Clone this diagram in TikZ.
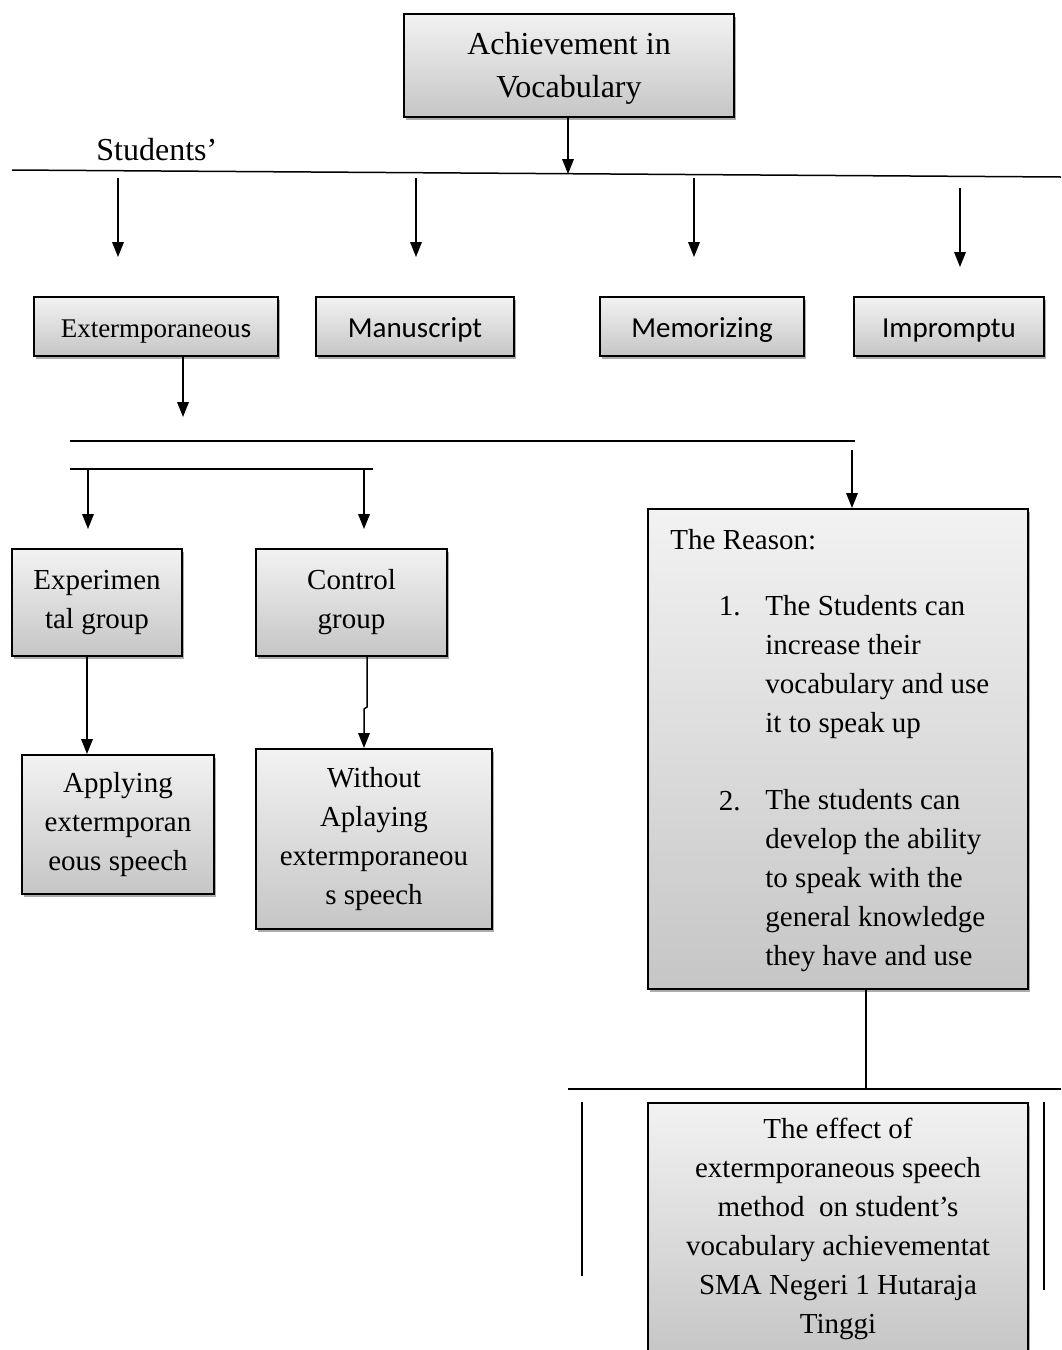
\documentclass[tikz,border=0pt]{standalone}
\usepackage{fontspec}
\setmainfont{Liberation Serif}
\newfontfamily\calibri{Carlito}
\usetikzlibrary{arrows.meta,positioning,shadows}
\tikzset{
  greybox/.style={draw,line width=1pt,inner sep=0pt,align=center,
    top color=gray!10,bottom color=gray!45,
    drop shadow={shadow xshift=0.9pt,shadow yshift=-1.4pt,fill=gray!65,opacity=1}},
  txt/.style={font=\fontsize{14.5}{19.5}\selectfont},
  sanstxt/.style={font=\calibri\fontsize{14.5}{18}\selectfont},
  lowtext/.style={text height=13.5pt,text depth=3pt},
  bare/.style={inner sep=0pt},
  downarr/.style={line width=.75pt,-{Triangle[length=7.5pt,width=5.8pt]}},
  bar/.style={line width=.75pt},
}
\begin{document}
\begin{tikzpicture}[x=.5pt,y=-.5pt]
  \useasboundingbox (0,0) rectangle (1061,1350);
  % top level
  \node[greybox,font=\fontsize{16}{21.5}\selectfont,text height=36pt,text depth=4pt,minimum width=165pt,minimum height=51.5pt] (ach) at (569,65.5) {Achievement in\\Vocabulary};
  \node[bare,font=\fontsize{16}{19.5}\selectfont,anchor=base west] (stud) at (96,160) {Students'};
  \coordinate (hubL) at (12,170);
  \coordinate (hubR) at (1061,177);
  \coordinate (hubM) at (568,174);
  \draw[bar] (hubL) -- (hubR);
  \draw[downarr] (ach.south -| hubM) -- (hubM);
  \foreach \px/\ytop/\ybot [count=\i] in {118/178/257,416/178/257,694/178/257,960/188/267}{
    \coordinate (mtop\i) at (\px,\ytop);
    \coordinate (mbot\i) at (\px,\ybot);
    \draw[downarr] (mtop\i) -- (mbot\i);
  }
  % delivery methods
  \node[greybox,lowtext,font=\fontsize{13.5}{16}\selectfont,minimum width=122pt,minimum height=29.5pt] (ext) at (156,326.5) {Extermporaneou{\calibri s}};
  \node[greybox,lowtext,sanstxt,minimum width=99pt,minimum height=29.5pt] (man) at (415,326.5) {Manuscript};
  \node[greybox,lowtext,sanstxt,minimum width=102pt,minimum height=29.5pt] (mem) at (702,326.5) {Memorizing};
  \node[greybox,lowtext,sanstxt,minimum width=95pt,minimum height=29.5pt] (imp) at (949,326.5) {Impromptu};
  \coordinate (extout) at (183,417);
  \draw[downarr] (ext.south -| extout) -- (extout);
  \coordinate (splitL) at (70,441);
  \coordinate (splitR) at (855,441);
  \draw[bar] (splitL) -- (splitR);
  \coordinate (grpL) at (70,469);
  \coordinate (grpR) at (373,469);
  \draw[bar] (grpL) -- (grpR);
  % groups
  \node[greybox,txt,minimum width=85pt,minimum height=53.5pt] (exp) at (97,602.5) {Experimen\\tal group};
  \node[greybox,txt,minimum width=95.5pt,minimum height=53.5pt] (ctl) at (351.5,602.5) {Control\\group};
  \node[greybox,txt,minimum width=96pt,minimum height=69.5pt] (app) at (118,824.5) {Applying\\extermporan\\eous speech};
  \node[greybox,txt,minimum width=118pt,minimum height=90pt] (wo) at (374,839) {Without\\Aplaying\\extermporaneou\\s speech};
  \coordinate (expin) at (88,529);
  \coordinate (ctlin) at (364,529);
  \draw[downarr] (grpL -| expin) -- (expin);
  \draw[downarr] (grpL -| ctlin) -- (ctlin);
  \draw[downarr] ([xshift=-5pt]exp.south) -- ([xshift=-5pt]exp.south |- app.north);
  \draw[downarr] ([xshift=7.75pt]ctl.south) -- ++(0,50) -- ++(-3,2) coordinate (cj) -- (cj |- wo.north);
  % reasons
  \node[greybox,minimum width=190pt,minimum height=240pt] (reason) at (838,749) {};
  \node[txt,bare,anchor=base west] (rtitle) at (670,549) {The Reason:};
  \node[txt,bare,anchor=base east] (rnum1) at (741,615) {1.};
  \node[txt,bare,anchor=base west,align=left] (ritem1) at (765,732) {The Students can\\increase their\\vocabulary and use\\it to speak up};
  \node[txt,bare,anchor=base east] (rnum2) at (741,810) {2.};
  \node[txt,bare,anchor=base west,align=left] (ritem2) at (765,965) {The students can\\develop the ability\\to speak with the\\general knowledge\\they have and use};
  \coordinate (rsn) at (852,450);
  \draw[downarr] (rsn) -- (reason.north -| rsn);
  % conclusion
  \coordinate (outL) at (568,1089);
  \coordinate (outR) at (1061,1089);
  \draw[bar] ([xshift=14pt]reason.south) -- ([xshift=14pt]reason.south |- outL);
  \draw[bar] (outL) -- (outR);
  \node[greybox,txt,minimum width=190pt,minimum height=126pt] (eff) at (838,1229) {The effect of\\extermporaneous speech\\method\ \ on student's\\vocabulary achievementat\\SMA Negeri 1 Hutaraja\\Tinggi};
  \coordinate (sideLt) at (582,1102);
  \coordinate (sideLb) at (582,1276);
  \coordinate (sideRt) at (1044,1102);
  \coordinate (sideRb) at (1044,1290);
  \draw[bar] (sideLt) -- (sideLb);
  \draw[bar] (sideRt) -- (sideRb);
\end{tikzpicture}
\end{document}
